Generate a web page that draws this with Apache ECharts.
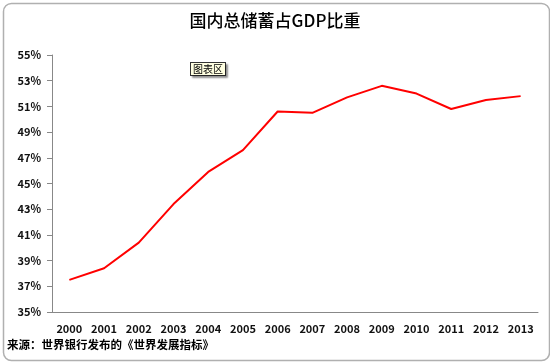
<!DOCTYPE html>
<html><head><meta charset="utf-8">
<script src="https://cdn.jsdelivr.net/npm/echarts@6/dist/echarts.min.js"></script>
<style>html,body{margin:0;padding:0;background:#fff}#c{width:550px;height:363px}</style>
</head><body><div id="c"></div>
<script>
const years = ['2000','2001','2002','2003','2004','2005','2006','2007','2008','2009','2010','2011','2012','2013'];
const savingsRate = [37.5, 38.4, 40.4, 43.4, 45.9, 47.6, 50.6, 50.5, 51.7, 52.6, 52.0, 50.8, 51.5, 51.8];
const yMin = 35, yMax = 55, yStep = 2;
const titleText = '国内总储蓄占GDP比重';
const sourceText = '来源：世界银行发布的《世界发展指标》';

const chart = echarts.init(document.getElementById('c'));
const font = '"Noto Sans CJK SC", "Liberation Sans", sans-serif';
chart.setOption({
  animation: false,
  title: {
    text: titleText, left: 'center', top: 7,
    textStyle: {fontFamily: font, fontSize: 17, fontWeight: 500, color: '#000'}
  },
  grid: {left: 52, right: 12, top: 55, bottom: 51, containLabel: false},
  xAxis: {
    type: 'category', data: years, boundaryGap: true,
    axisLine: {lineStyle: {color: '#888', width: 1}},
    axisTick: {inside: true, length: 4, lineStyle: {color: '#888'}},
    axisLabel: {fontFamily: font, fontSize: 11, fontWeight: 'bold', color: '#111', margin: 11}
  },
  yAxis: {
    type: 'value', min: yMin, max: yMax, interval: yStep,
    axisLine: {show: true, lineStyle: {color: '#888', width: 1}},
    axisTick: {show: true, length: 5, lineStyle: {color: '#888'}},
    splitLine: {show: false},
    axisLabel: {formatter: '{value}%', fontFamily: font, fontSize: 11, fontWeight: 'bold', color: '#111', margin: 11}
  },
  series: [{
    type: 'line', data: savingsRate, symbol: 'none',
    lineStyle: {color: '#ff0000', width: 2}
  }],
  graphic: [
    {type: 'rect', left: 1, top: 1, shape: {width: 546, height: 357, r: 8}, silent: true,
     style: {fill: 'none', stroke: '#b0b0b0', lineWidth: 1.5}},
    {type: 'text', left: 7, top: 339, style: {text: sourceText, font: 'bold 11.5px ' + font, fill: '#000'}},
    {type: 'text', left: 190, top: 62, style: {text: '图表区', font: '10px ' + font, fill: '#000',
      backgroundColor: '#ffffe1', borderColor: '#333', borderWidth: 1, padding: [1, 2],
      shadowColor: 'rgba(0,0,0,0.35)', shadowOffsetX: 2, shadowOffsetY: 2, shadowBlur: 2}}
  ]
});
</script></body></html>
